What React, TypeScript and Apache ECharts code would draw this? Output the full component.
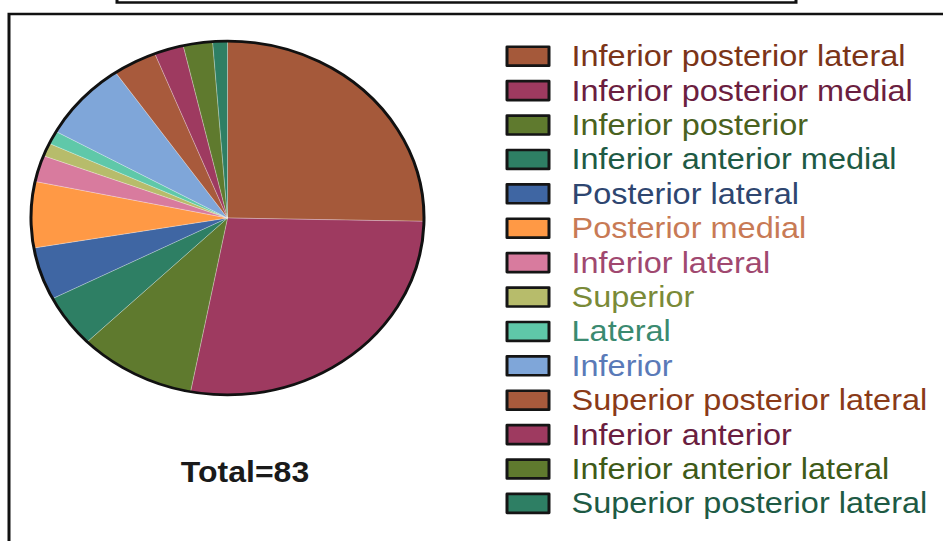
import React, { useEffect, useRef } from "react";
import * as echarts from "echarts";

const categories = [
  "Inferior posterior lateral",
  "Inferior posterior medial",
  "Inferior posterior",
  "Inferior anterior medial",
  "Posterior lateral",
  "Posterior medial",
  "Inferior lateral",
  "Superior",
  "Lateral",
  "Inferior",
  "Superior posterior lateral",
  "Inferior anterior",
  "Inferior anterior lateral",
  "Superior posterior lateral",
];
const counts = [21, 23, 8, 4, 4, 5, 2, 1, 1, 6, 3, 2, 2, 1];
const sliceColors = [
  "#A5593A", "#9E3A60", "#5F7A2E", "#2E7F64", "#3F66A3", "#FF9945", "#D87B9E",
  "#B7BC6B", "#5FC8A9", "#7FA6D9", "#A85A3C", "#9E3A60", "#5F7A2E", "#2E7F64",
];
const labelColors = [
  "#7B3418", "#6B1E40", "#4A6220", "#1E5A44", "#2E4670", "#C87A55", "#A04870",
  "#7A8A38", "#3A8A70", "#5A7AB8", "#8A3A18", "#6B1E40", "#3E5A18", "#1E5A44",
];

const S = 0.9; // vertical squash of the original picture
const W = 943;
const H = 541;

export default function App() {
  const ref = useRef<HTMLDivElement>(null);
  useEffect(() => {
    if (!ref.current) return;
    const chart = echarts.init(ref.current, null, { renderer: "svg" });
    // unique internal names (the last label repeats an earlier one)
    const names = categories.map((c, i) =>
      categories.indexOf(c) !== i ? c + "\u200b" : c
    );
    const total = counts.reduce((a, b) => a + b, 0);
    const rowPitch = 33.95 / S;
    const fs = 32.5;
    const cy = 218 / S;
    chart.setOption({
      animation: false,
      backgroundColor: "#ffffff",
      legend: {
        orient: "vertical",
        left: 505.5,
        top: 56 / S - fs / 2,
        height: 600,
        padding: 0,
        itemWidth: 42,
        itemHeight: 21,
        itemGap: rowPitch - fs,
        selectedMode: false,
        icon: "rect",
        itemStyle: { borderColor: "#151515", borderWidth: 3 },
        formatter: (n: string) => n.replace(/\u200b/g, ""),
        textStyle: {
          fontFamily: "Liberation Sans, Arial, sans-serif",
          fontSize: fs,
          padding: [0, 0, 0, 17.5],
        },
        data: names.map((n, i) => ({
          name: n,
          textStyle: { color: labelColors[i] },
        })),
      },
      graphic: [
        {
          type: "rect",
          shape: { x: 9, y: 14 / S, width: 1000, height: 800 },
          style: { fill: "none", stroke: "#111", lineWidth: 3 },
          silent: true,
        },
        {
          type: "rect",
          shape: { x: 117, y: -30, width: 679, height: 30 + 2.5 / S },
          style: { fill: "none", stroke: "#111", lineWidth: 3 },
          silent: true,
        },
        {
          type: "text",
          x: 245,
          y: 472 / S,
          style: {
            text: `Total=${total}`,
            fontFamily: "Liberation Sans, Arial, sans-serif",
            fontWeight: "bold",
            fontSize: 32,
            fill: "#1a1a1a",
            align: "center",
            verticalAlign: "middle",
          },
        },
      ],
      series: [
        {
          type: "pie",
          center: [227.5, cy],
          radius: [0, 196.5],
          startAngle: 90,
          clockwise: true,
          label: { show: false },
          labelLine: { show: false },
          emphasis: { disabled: true },
          itemStyle: { borderColor: "rgba(255,255,255,0.35)", borderWidth: 0.8 },
          data: names.map((n, i) => ({
            name: n,
            value: counts[i],
            itemStyle: { color: sliceColors[i] },
          })),
        },
        {
          type: "pie",
          silent: true,
          center: [227.5, cy],
          radius: [0, 196.5],
          label: { show: false },
          labelLine: { show: false },
          emphasis: { disabled: true },
          itemStyle: { color: "none", borderColor: "#111", borderWidth: 3 },
          data: [{ name: "outline", value: 1 }],
        },
      ],
    });
    return () => chart.dispose();
  }, []);
  return (
    <div
      style={{
        position: "fixed",
        left: 0,
        top: 0,
        width: W,
        height: H,
        overflow: "hidden",
        background: "#fff",
      }}
    >
      <div
        ref={ref}
        style={{
          width: W,
          height: H / S,
          transform: `scaleY(${S})`,
          transformOrigin: "0 0",
        }}
      />
    </div>
  );
}
